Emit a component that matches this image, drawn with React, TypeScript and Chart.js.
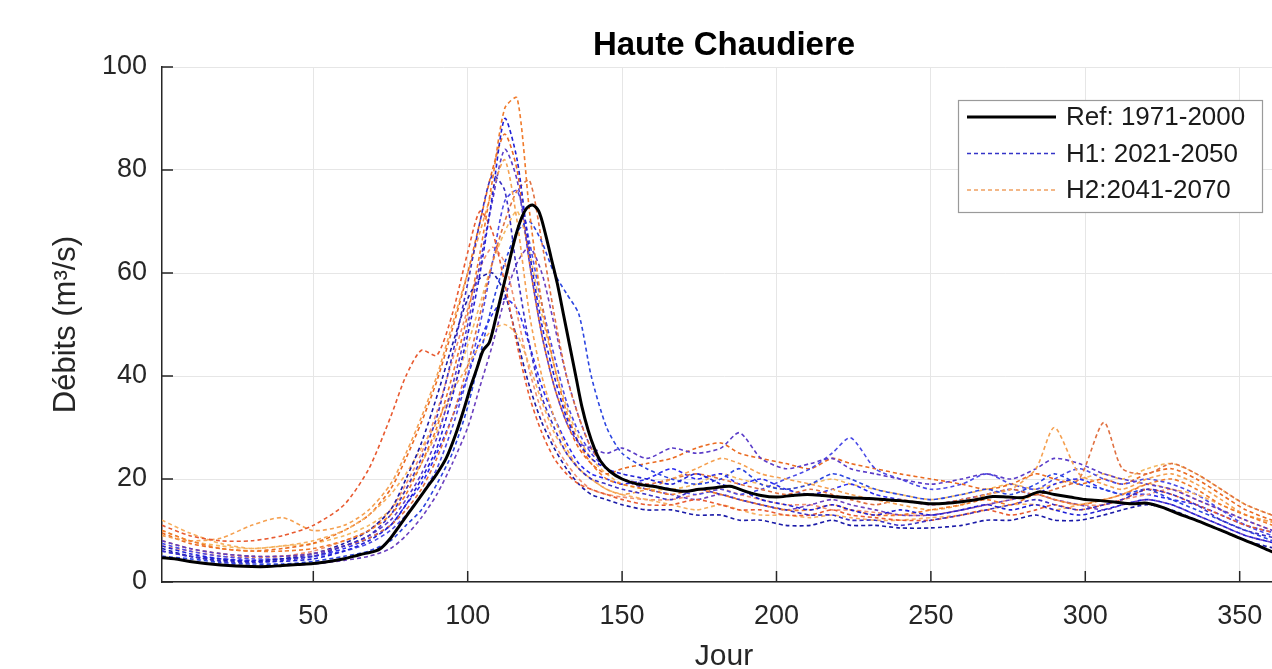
import { useEffect, useRef } from "react";
import { Chart, registerables } from "chart.js";

Chart.register(...registerables);

const FONT = "'Liberation Sans', Arial, Helvetica, sans-serif";

// Reference period 1971-2000, mean daily flow
const refDays = [1, 5, 10, 15, 20, 25, 30, 35, 40, 45, 50, 55, 60, 65, 70, 72, 75, 78, 81, 84, 87, 90, 93, 96, 99, 101, 103, 105, 107, 109, 111, 113, 115, 117, 119, 121, 123, 125, 127, 129, 131, 133, 135, 137, 139, 141, 143, 146, 150, 155, 160, 165, 170, 175, 180, 185, 190, 195, 200, 205, 210, 215, 220, 225, 230, 235, 240, 245, 250, 255, 260, 265, 270, 275, 280, 285, 290, 295, 300, 305, 310, 315, 320, 325, 330, 335, 340, 345, 350, 355, 360, 365];
const refFlow = [4.7, 4.5, 4.0, 3.6, 3.3, 3.1, 3.0, 3.0, 3.2, 3.4, 3.6, 4.0, 4.5, 5.3, 6.0, 6.6, 8.5, 11, 13.5, 16, 18.5, 21, 24, 28.5, 34, 38, 41.5, 45, 46.5, 51, 56, 61, 66, 70, 72.5, 73.2, 72, 68, 63, 58, 52, 46, 40, 34, 29.5, 26, 23.5, 21.5, 20, 19, 18.6, 18, 17.6, 18, 18.3, 18.6, 17.6, 16.8, 16.5, 16.8, 17, 16.8, 16.5, 16.3, 16.2, 16, 15.8, 15.5, 15.2, 15.3, 15.6, 16, 16.6, 16.5, 16.4, 17.5, 17, 16.5, 16, 15.8, 15.5, 15.2, 15.3, 14.5, 13.3, 12.2, 11, 9.8, 8.5, 7.3, 6, 5];

// Sampling days shared by the climate-scenario runs
const days = [1, 10, 20, 30, 40, 50, 60, 68, 75, 80, 85, 90, 95, 100, 104, 108, 112, 116, 120, 124, 128, 132, 136, 140, 145, 150, 158, 166, 174, 182, 188, 195, 203, 211, 218, 224, 232, 240, 250, 260, 268, 276, 284, 290, 298, 306, 312, 320, 328, 336, 344, 352, 365];

// Horizon H1: 2021-2050
const h1a = [7, 5.5, 4.5, 4, 4, 4.5, 6, 8, 11, 15, 20, 26, 36, 48, 60, 75, 90, 82, 64, 50, 40, 32, 27, 24, 22, 21, 20, 19, 21, 19, 18, 16, 15, 14, 15, 14, 13, 14, 13, 14, 15, 14, 15, 14, 13, 14, 15, 16, 15, 13, 11, 9, 7];
const h1b = [6, 5, 4, 3.8, 4.2, 5, 7, 9, 13, 18, 24, 32, 44, 58, 70, 79, 76, 60, 46, 36, 30, 25, 22, 20, 19, 18, 17, 16, 18, 17, 16, 15, 14, 13, 13, 12, 12, 11, 12, 13, 14, 15, 16, 15, 14, 15, 16, 18, 17, 15, 12, 10, 8];
const h1c = [5, 4.5, 3.8, 3.5, 3.5, 4, 5, 6, 8, 11, 14, 19, 25, 34, 44, 54, 62, 68, 70, 66, 60, 56, 52, 40, 30, 25, 22, 20, 19, 20, 22, 19, 18, 19, 21, 20, 18, 17, 16, 17, 18, 17, 19, 21, 19, 18, 17, 18, 16, 14, 12, 10, 7];
const h1d = [8, 6.5, 5.5, 5, 5, 5.5, 7, 9, 12, 16, 21, 28, 38, 50, 62, 74, 84, 78, 62, 48, 38, 31, 27, 26, 25, 26, 24, 26, 25, 26, 29, 24, 22, 23, 24, 22, 21, 20, 19, 20, 21, 20, 22, 24, 23, 21, 20, 19, 18, 16, 14, 12, 9];
const h1e = [6.5, 5, 4.2, 4, 4.5, 5.5, 7.5, 10, 14, 20, 27, 36, 46, 55, 59, 60, 56, 47, 38, 31, 26, 22, 19, 17, 16, 15, 14, 14, 13, 13, 12, 12, 11, 11, 12, 11, 11, 10.5, 10.5, 11, 12, 12, 13, 12, 12, 13, 14, 15, 14, 12, 10, 8, 6];
const h1f = [7.5, 6, 5, 4.5, 4.5, 5, 6, 7.5, 10, 13, 17, 22, 30, 40, 50, 62, 74, 76, 66, 54, 44, 35, 29, 25, 22, 20, 19, 18, 17, 18, 17, 18, 20, 22, 25, 28, 22, 20, 18, 19, 21, 19, 18, 20, 22, 20, 19, 20, 19, 17, 14, 11, 8];
const h1g = [5, 4, 3.5, 3.2, 3.2, 3.5, 4.2, 5, 6.5, 9, 12.5, 17, 23, 30, 38, 46, 55, 62, 65, 60, 50, 40, 32, 26, 22, 20, 18, 17, 16, 17, 16, 15, 14, 15, 16, 15, 14, 13, 13, 14, 15, 16, 17, 16, 15, 14, 15, 16, 15, 13, 11, 9, 7];
const h1h = [6, 5, 4.5, 4.2, 4.5, 5, 6.5, 8.5, 11, 15, 19, 25, 32, 40, 47, 52, 55, 53, 46, 38, 32, 27, 23, 21, 20, 19, 20, 22, 20, 21, 19, 20, 18, 17, 18, 19, 17, 16, 15, 16, 17, 18, 17, 19, 20, 18, 17, 17, 16, 15, 13, 11, 9];

// Horizon H2: 2041-2070
const h2a = [10, 8, 6.5, 6, 6, 6.5, 8, 10, 13, 17, 23, 30, 40, 52, 64, 78, 92, 94, 72, 54, 42, 33, 27, 23, 20, 19, 18, 17, 18, 17, 16, 15, 14, 14, 15, 14, 13, 13, 14, 15, 16, 15, 17, 16, 15, 16, 17, 19, 20, 18, 15, 13, 10];
const h2b = [11, 9, 8, 8, 9, 11, 15, 22, 32, 40, 45, 44, 52, 64, 72, 68, 58, 46, 36, 29, 24, 21, 19, 18, 17, 16, 15, 15, 16, 15, 14, 14, 13, 13, 14, 13, 12.5, 12, 12, 13, 14, 13, 14, 15, 14, 15, 16, 18, 17, 15, 13, 11, 9];
const h2c = [9, 8, 8.5, 11, 12.5, 10, 11, 14, 19, 25, 32, 40, 50, 60, 68, 76, 82, 70, 52, 40, 32, 26, 22, 20, 18, 17, 18, 20, 22, 24, 23, 21, 20, 19, 18, 17, 16, 15, 14, 15, 17, 18, 22, 30, 21, 19, 18, 20, 21, 19, 16, 13, 11];
const h2d = [8, 6.5, 5.5, 5, 5, 5.5, 7, 8.5, 11, 14, 18, 24, 32, 42, 52, 62, 70, 76, 78, 66, 52, 40, 32, 26, 22, 20, 19, 20, 21, 20, 19, 18, 17, 18, 17, 16, 15, 16, 15, 16, 17, 18, 17, 18, 20, 31, 22, 21, 23, 21, 18, 15, 12];
const h2e = [12, 9.5, 7.5, 6.5, 7, 8, 10, 13, 17, 21, 26, 31, 37, 42, 46, 49, 50, 48, 42, 35, 29, 25, 22, 20, 18, 17, 16, 15, 14, 15, 14, 13, 13, 12.5, 13, 12.5, 12, 12, 12.5, 13, 14, 15, 15, 14, 15, 16, 17, 19, 18, 17, 15, 13, 11];
const h2f = [9.5, 7.5, 6.5, 6, 6.5, 7.5, 10, 13, 18, 24, 31, 39, 49, 60, 70, 80, 87, 80, 62, 48, 38, 31, 26, 23, 21, 22, 23, 24, 26, 27, 25, 24, 23, 22, 24, 23, 22, 21, 20, 19, 18, 19, 21, 20, 19, 20, 19, 21, 22, 20, 17, 14, 11];
const h2g = [7, 6, 5, 4.8, 5, 6, 8, 10, 14, 19, 25, 33, 43, 53, 61, 65, 62, 52, 41, 33, 27, 23, 20, 18, 17, 16.5, 16, 16, 17, 18, 17, 16, 15, 15, 14, 14, 13.5, 13, 13, 14, 15, 16, 17, 16, 15, 15, 16, 17, 18, 16, 14, 12, 9];
const h2h = [10, 8, 7, 6.5, 7, 7.5, 9, 11, 14, 18, 23, 29, 37, 46, 54, 62, 68, 72, 64, 52, 42, 34, 28, 24, 21, 19, 18, 18, 19, 21, 20, 19, 18, 19, 20, 19, 18, 17, 16, 17, 18, 19, 18, 19, 20, 21, 20, 22, 23, 21, 18, 15, 12];

const h1Runs = [h1a, h1b, h1c, h1d, h1e, h1f, h1g, h1h];
const h2Runs = [h2a, h2b, h2c, h2d, h2e, h2f, h2g, h2h];

const h1Colors = ["#1f1fd6", "#3a2fc4", "#2b45e0", "#5a3cc8", "#1a1aa8", "#4a4ae6", "#6b40c0", "#2c2cf0"];
const h2Colors = ["#f07a2a", "#e85a30", "#f5a050", "#e07040", "#f7b060", "#ea6a20", "#f09070", "#f4b860"];

const yTicks = [0, 20, 40, 60, 80, 100];
const xTicks = [50, 100, 150, 200, 250, 300, 350];

const legendItems = [
  { label: "Ref: 1971-2000", color: "#000000", width: 3, dash: [] as number[] },
  { label: "H1: 2021-2050", color: "#3434c8", width: 1.6, dash: [4, 3] },
  { label: "H2:2041-2070", color: "#f0a060", width: 1.6, dash: [4, 3] },
];

const pair = (xs: number[], ys: number[]) => xs.map((x, i) => ({ x, y: ys[i] }));

// Inward tick marks (MATLAB style) and the boxed legend in the upper right
const decorations = {
  id: "decorations",
  afterDraw(chart: any) {
    const { ctx, chartArea, scales } = chart;
    ctx.save();
    ctx.strokeStyle = "#262626";
    ctx.lineWidth = 1.5;
    ctx.beginPath();
    yTicks.forEach((v) => {
      const y = scales.y.getPixelForValue(v);
      ctx.moveTo(chartArea.left, y);
      ctx.lineTo(chartArea.left + 11, y);
    });
    xTicks.forEach((v) => {
      const x = scales.x.getPixelForValue(v);
      ctx.moveTo(x, chartArea.bottom);
      ctx.lineTo(x, chartArea.bottom - 11);
    });
    ctx.stroke();

    const bx = 958, by = 100, bw = 304, bh = 112;
    ctx.fillStyle = "#ffffff";
    ctx.fillRect(bx, by, bw, bh);
    ctx.strokeStyle = "#9a9a9a";
    ctx.lineWidth = 1.2;
    ctx.strokeRect(bx + 0.5, by + 0.5, bw, bh);
    ctx.font = `26px ${FONT}`;
    ctx.textBaseline = "middle";
    ctx.textAlign = "left";
    legendItems.forEach((it, i) => {
      const y = 117 + i * 36.5;
      ctx.strokeStyle = it.color;
      ctx.lineWidth = it.width;
      ctx.setLineDash(it.dash);
      ctx.beginPath();
      ctx.moveTo(967, y);
      ctx.lineTo(1056, y);
      ctx.stroke();
      ctx.setLineDash([]);
      ctx.fillStyle = "#1a1a1a";
      ctx.fillText(it.label, 1066, y + 1);
    });
    ctx.restore();
  },
};

export default function App() {
  const ref = useRef<HTMLCanvasElement | null>(null);

  useEffect(() => {
    if (!ref.current) return;
    document.body.style.overflow = "hidden";

    const scenarioSets: any[] = [];
    for (let i = 0; i < h1Runs.length; i++) {
      scenarioSets.push({
        label: "H1",
        data: pair(days, h1Runs[i]),
        borderColor: h1Colors[i],
        borderWidth: 1.6,
        borderDash: [4, 3],
        pointRadius: 0,
        tension: 0.25,
      });
      scenarioSets.push({
        label: "H2",
        data: pair(days, h2Runs[i]),
        borderColor: h2Colors[i],
        borderWidth: 1.6,
        borderDash: [4, 3],
        pointRadius: 0,
        tension: 0.25,
      });
    }

    const chart = new Chart(ref.current, {
      type: "line",
      data: {
        datasets: [
          {
            label: "Ref: 1971-2000",
            data: pair(refDays, refFlow),
            borderColor: "#000000",
            borderWidth: 3,
            pointRadius: 0,
            tension: 0.3,
          },
          ...scenarioSets,
        ],
      },
      options: {
        responsive: false,
        animation: false,
        devicePixelRatio: 1,
        layout: { padding: { top: 0, right: 14, left: 0, bottom: 0 } },
        plugins: {
          legend: { display: false },
          tooltip: { enabled: false },
          title: {
            display: true,
            fullSize: false,
            text: "Haute Chaudiere",
            color: "#000000",
            font: { family: FONT, size: 33, weight: "bold" },
            padding: { top: 26, bottom: 1.4 },
          },
        },
        scales: {
          x: {
            type: "linear",
            min: 1,
            max: 365,
            afterBuildTicks: (scale: any) => {
              scale.ticks = xTicks.map((value) => ({ value }));
            },
            afterFit: (scale: any) => {
              scale.height = 87;
            },
            grid: { color: "#e6e6e6", lineWidth: 1, drawTicks: false },
            border: { color: "#262626", width: 1.5 },
            ticks: {
              color: "#262626",
              font: { family: FONT, size: 27 },
              padding: 18,
              maxRotation: 0,
            },
            title: {
              display: true,
              text: "Jour",
              color: "#262626",
              font: { family: FONT, size: 30 },
              padding: { top: 0, bottom: -6 },
            },
          },
          y: {
            min: 0,
            max: 100,
            afterBuildTicks: (scale: any) => {
              scale.ticks = yTicks.map((value) => ({ value }));
            },
            afterFit: (scale: any) => {
              scale.width = 162;
            },
            grid: { color: "#e6e6e6", lineWidth: 1, drawTicks: false },
            border: { color: "#262626", width: 1.5 },
            ticks: {
              color: "#262626",
              font: { family: FONT, size: 27 },
              padding: 15,
            },
            title: {
              display: true,
              text: "Débits (m³/s)",
              color: "#262626",
              font: { family: FONT, size: 31 },
              padding: { top: 48, bottom: 0 },
            },
          },
        },
      },
      plugins: [decorations],
    } as any);

    return () => chart.destroy();
  }, []);

  return (
    <div
      style={{
        position: "fixed",
        left: 0,
        top: 0,
        width: 1272,
        height: 669,
        overflow: "hidden",
        background: "#ffffff",
      }}
    >
      <canvas ref={ref} width={1300} height={669} style={{ display: "block" }} />
    </div>
  );
}
